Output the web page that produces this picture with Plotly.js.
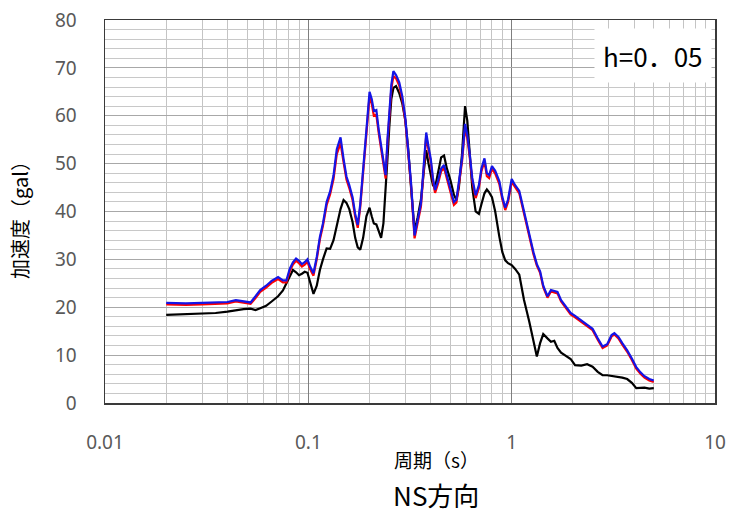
<!DOCTYPE html>
<html>
<head>
<meta charset="utf-8">
<script src="https://cdn.plot.ly/plotly-3.0.1.min.js"></script>
<style>html,body{margin:0;padding:0;background:#fff;}#chart{width:731px;height:514px;}</style>
</head>
<body>
<div id="chart"></div>
<script>
// Period (s)
const period = [0.02,0.025,0.03,0.035,0.04,0.044,0.048,0.052,0.055,0.058,0.062,0.066,0.071,0.075,0.078,0.081,0.084,0.087,0.09,0.093,0.096,0.099,0.102,0.106,0.11,0.114,0.118,0.123,0.128,0.133,0.138,0.144,0.149,0.154,0.159,0.165,0.17,0.175,0.18,0.186,0.193,0.2,0.205,0.21,0.216,0.222,0.228,0.234,0.24,0.245,0.25,0.256,0.262,0.27,0.28,0.29,0.3,0.31,0.32,0.333,0.345,0.358,0.37,0.38,0.39,0.4,0.41,0.42,0.435,0.45,0.465,0.48,0.5,0.52,0.535,0.55,0.57,0.59,0.605,0.62,0.64,0.665,0.69,0.71,0.735,0.755,0.775,0.8,0.83,0.87,0.9,0.93,0.96,1.0,1.04,1.09,1.15,1.22,1.28,1.33,1.38,1.43,1.5,1.56,1.62,1.68,1.75,1.85,1.95,2.05,2.2,2.35,2.5,2.65,2.8,2.95,3.1,3.2,3.35,3.5,3.7,3.9,4.1,4.3,4.5,4.75,5.0];

// Acceleration (gal) – black series
const accBlack = [18.4,18.5,18.6,18.8,19.1,19.4,19.6,19.7,19.4,19.8,20.3,21.2,22.3,23.5,25.0,26.5,27.8,27.3,26.7,27.0,27.4,27.2,25.0,22.8,24.5,27.8,30.0,32.3,32.2,34.0,37.0,40.5,42.4,41.8,40.5,37.8,34.5,32.5,32.0,34.5,39.0,40.8,39.0,37.5,37.3,36.0,34.5,37.5,44.0,51.0,57.5,63.5,65.8,66.2,64.7,62.5,59.0,53.0,45.0,36.0,38.8,42.5,48.5,52.8,50.0,47.5,45.5,45.0,48.5,51.3,51.7,49.0,46.5,43.5,42.4,45.0,52.0,62.0,59.0,53.0,45.0,40.0,39.5,41.5,43.8,44.6,44.0,43.0,40.0,34.7,31.5,29.8,29.2,28.8,28.0,26.8,21.5,17.0,13.0,9.7,12.5,14.4,13.5,12.8,13.0,11.5,10.5,9.8,9.2,7.9,7.8,8.1,7.6,6.5,5.8,5.8,5.7,5.6,5.5,5.3,5.0,4.2,3.1,3.2,3.2,3.0,3.1];

// Acceleration (gal) – red series
const accRed = [20.6,20.5,20.6,20.7,20.8,21.2,21.0,20.7,21.9,23.2,24.1,25.1,25.9,25.2,25.2,27.5,28.9,29.7,29.2,28.5,28.9,29.5,28.0,26.6,30.0,34.2,37.0,41.3,43.6,46.8,52.0,54.3,50.3,46.7,44.9,42.4,38.9,36.6,40.9,47.3,56.2,64.0,62.5,60.0,60.2,56.3,52.8,49.8,46.9,54.3,60.7,65.6,68.3,67.8,66.3,63.3,58.9,52.4,45.4,34.4,37.9,41.1,49.3,55.8,52.9,50.4,46.4,43.9,45.9,48.4,49.1,46.9,43.9,41.4,41.9,45.4,50.4,57.5,55.3,51.9,46.4,42.8,44.9,48.4,50.5,47.4,47.0,48.9,47.9,45.7,42.5,40.3,42.0,46.2,45.0,43.8,39.6,34.6,31.1,28.7,27.2,24.2,22.0,23.3,23.1,22.9,21.2,19.7,18.5,17.9,17.0,16.0,15.2,13.2,11.5,12.0,13.9,14.3,13.5,12.2,10.7,9.0,7.2,6.1,5.3,4.7,4.4];

// Acceleration (gal) – blue series
const accBlue = [20.9,20.8,20.9,21.0,21.1,21.5,21.3,21.0,22.3,23.6,24.5,25.5,26.3,25.6,25.6,28.0,29.4,30.2,29.7,29.0,29.4,30.0,28.5,27.1,30.5,34.7,37.5,42.0,44.2,47.5,53.0,55.5,51.0,47.3,45.5,43.0,39.5,37.2,41.5,48.0,57.0,65.0,63.5,61.0,61.2,57.0,53.5,50.5,47.6,55.0,61.5,66.5,69.3,68.5,67.0,64.0,59.5,53.0,46.0,35.0,38.5,41.7,50.0,56.5,53.5,51.0,47.0,44.5,46.5,49.0,49.7,47.5,44.5,42.0,42.5,46.0,51.0,58.3,56.0,52.5,47.0,43.4,45.5,49.0,51.1,48.0,47.6,49.5,48.5,46.3,43.0,40.8,42.5,46.8,45.5,44.3,40.0,35.0,31.5,29.0,27.5,24.5,22.3,23.6,23.4,23.2,21.5,20.0,18.8,18.2,17.3,16.3,15.5,13.5,11.8,12.3,14.2,14.6,13.8,12.5,11.0,9.3,7.5,6.4,5.6,5.0,4.7];

const xTickVals = [0.01, 0.1, 1, 10];
const xTickText = ['0.01', '0.1', '1', '10'];
const yTickVals = [0, 10, 20, 30, 40, 50, 60, 70, 80];

const titleText = 'NS方向';
const xTitleText = '周期（s）';
const yTitleText = '加速度（gal）';
const dampingText = 'h=0．05';

const traces = [
  {x: period, y: accBlack, type: 'scatter', mode: 'lines', line: {color: '#000000', width: 2.2}, hoverinfo: 'skip'},
  {x: period, y: accRed, type: 'scatter', mode: 'lines', line: {color: '#FF0000', width: 2.2}, hoverinfo: 'skip'},
  {x: period, y: accBlue, type: 'scatter', mode: 'lines', line: {color: '#1414E6', width: 2.2}, hoverinfo: 'skip'}
];

const tickFont = {family: 'Noto Sans, sans-serif', size: 19, color: '#595959'};
const cjk = 'Noto Sans CJK JP, sans-serif';

const layout = {
  width: 731, height: 514,
  margin: {l: 105, r: 16, t: 20, b: 111, pad: 0},
  paper_bgcolor: '#ffffff', plot_bgcolor: '#ffffff',
  showlegend: false,
  font: {family: cjk},
  title: {text: titleText, font: {family: cjk, size: 26, color: '#000000'}, xref: 'paper', x: 0.543, xanchor: 'center', yref: 'container', y: 0.034, yanchor: 'middle'},
  xaxis: {
    type: 'log', range: [-2, 1],
    tickmode: 'array', tickvals: xTickVals, ticktext: xTickText,
    tickfont: tickFont, ticks: '', ticklabelstandoff: 22,
    showgrid: true, gridcolor: '#7F7F7F', gridwidth: 1,
    minor: {dtick: 'D1', showgrid: true, gridcolor: '#C4C4C4', gridwidth: 1, ticks: ''},
    showline: true, mirror: true, linecolor: '#3A3A3A', linewidth: 1.5,
    zeroline: false, fixedrange: true
  },
  yaxis: {
    range: [0, 80], tickmode: 'array', tickvals: yTickVals,
    tickfont: tickFont, ticks: '', ticklabelstandoff: 23,
    showgrid: true, gridcolor: '#A8A8A8', gridwidth: 1,
    minor: {dtick: 2, showgrid: true, gridcolor: '#C8C8C8', gridwidth: 1, ticks: ''},
    showline: true, mirror: true, linecolor: '#3A3A3A', linewidth: 1.5,
    zeroline: false, fixedrange: true
  },
  annotations: [
    {text: xTitleText, xref: 'paper', yref: 'paper', x: 0.543, y: -0.148, xanchor: 'center', yanchor: 'middle', showarrow: false, font: {family: cjk, size: 19, color: '#000000'}},
    {text: yTitleText, xref: 'paper', yref: 'paper', x: -0.14, y: 0.49, xanchor: 'center', yanchor: 'middle', textangle: -90, showarrow: false, font: {family: cjk, size: 20, color: '#000000'}},
    {text: dampingText, xref: 'paper', yref: 'paper', x: 0.898, y: 0.907, xanchor: 'center', yanchor: 'middle', showarrow: false, bgcolor: '#ffffff', borderpad: 8, font: {family: cjk, size: 26, color: '#000000'}}
  ]
};

Plotly.newPlot('chart', traces, layout, {staticPlot: true, displayModeBar: false});
</script>
</body>
</html>
